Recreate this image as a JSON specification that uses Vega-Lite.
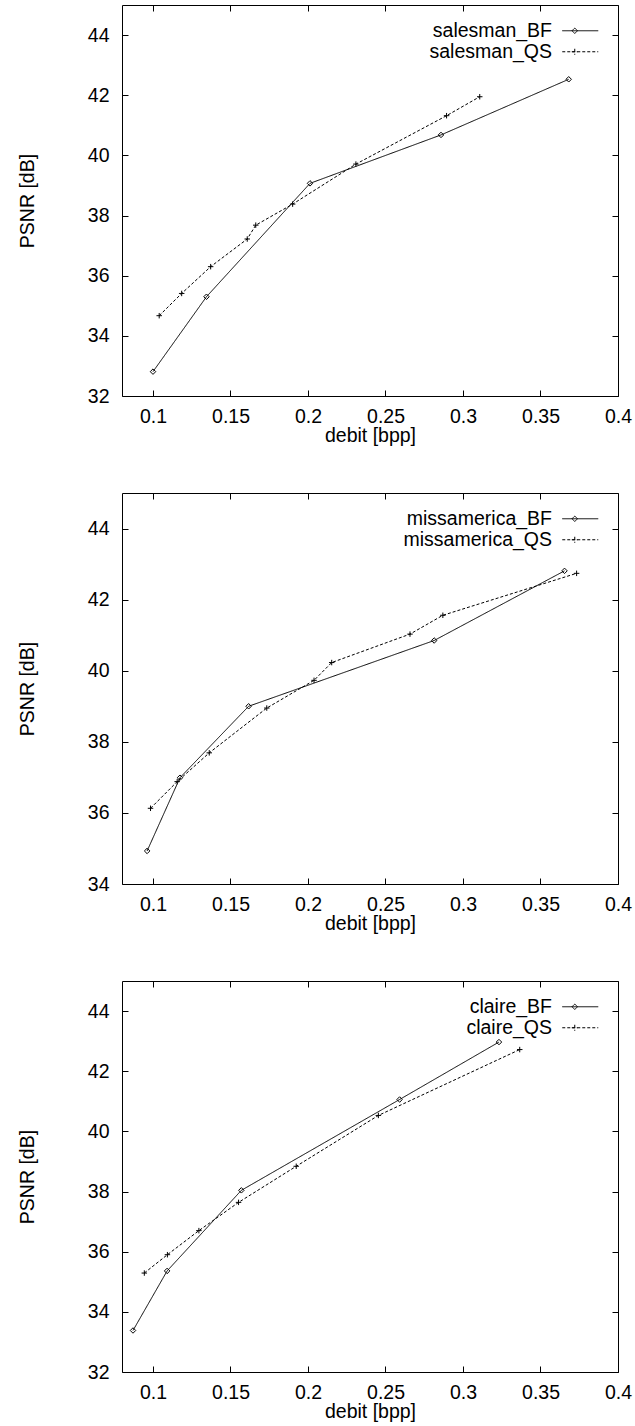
{
  "$schema": "https://vega.github.io/schema/vega-lite/v6.json",
  "padding": {"left": 16, "top": 4, "right": 0, "bottom": 0},
  "background": "white",
  "config": {
    "font": "Liberation Sans",
    "view": {"stroke": "black", "strokeWidth": 1},
    "axis": {
      "grid": false,
      "domain": false,
      "tickColor": "black",
      "tickSize": -6,
      "tickWidth": 1,
      "labelColor": "black",
      "labelFont": "Liberation Sans",
      "labelFontSize": 19.5,
      "titleColor": "black",
      "titleFont": "Liberation Sans",
      "titleFontSize": 19.5,
      "titleFontWeight": "normal",
      "labelFlush": false,
      "labelOverlap": false
    },
    "legend": {
      "orient": "none", "legendX": 448.5, "legendY": 16, "title": null, "padding": 0, "rowPadding": 0,
      "labelFont": "Liberation Sans", "labelFontSize": 19.5, "labelColor": "black", "labelAlign": "right", "labelOffset": -38, "labelLimit": 0,
      "symbolSize": 100, "symbolStrokeWidth": 1, "symbolStrokeColor": "black", "symbolFillColor": "transparent"
    }
  },
  "data": {
    "values": [
      {"seq": "salesman", "series": "salesman_BF", "debit": 0.1, "psnr": 32.81},
      {"seq": "salesman", "series": "salesman_BF", "debit": 0.1345, "psnr": 35.3},
      {"seq": "salesman", "series": "salesman_BF", "debit": 0.2013, "psnr": 39.07},
      {"seq": "salesman", "series": "salesman_BF", "debit": 0.2858, "psnr": 40.68},
      {"seq": "salesman", "series": "salesman_BF", "debit": 0.3682, "psnr": 42.53},
      {"seq": "salesman", "series": "salesman_QS", "debit": 0.104, "psnr": 34.67},
      {"seq": "salesman", "series": "salesman_QS", "debit": 0.1185, "psnr": 35.41},
      {"seq": "salesman", "series": "salesman_QS", "debit": 0.1372, "psnr": 36.3},
      {"seq": "salesman", "series": "salesman_QS", "debit": 0.1608, "psnr": 37.22},
      {"seq": "salesman", "series": "salesman_QS", "debit": 0.1663, "psnr": 37.68},
      {"seq": "salesman", "series": "salesman_QS", "debit": 0.1901, "psnr": 38.38},
      {"seq": "salesman", "series": "salesman_QS", "debit": 0.2309, "psnr": 39.71},
      {"seq": "salesman", "series": "salesman_QS", "debit": 0.2894, "psnr": 41.32},
      {"seq": "salesman", "series": "salesman_QS", "debit": 0.3108, "psnr": 41.95},
      {"seq": "missamerica", "series": "missamerica_BF", "debit": 0.0962, "psnr": 34.93},
      {"seq": "missamerica", "series": "missamerica_BF", "debit": 0.1174, "psnr": 36.99},
      {"seq": "missamerica", "series": "missamerica_BF", "debit": 0.1617, "psnr": 39.0},
      {"seq": "missamerica", "series": "missamerica_BF", "debit": 0.2814, "psnr": 40.85},
      {"seq": "missamerica", "series": "missamerica_BF", "debit": 0.3655, "psnr": 42.81},
      {"seq": "missamerica", "series": "missamerica_QS", "debit": 0.0984, "psnr": 36.13},
      {"seq": "missamerica", "series": "missamerica_QS", "debit": 0.1156, "psnr": 36.88},
      {"seq": "missamerica", "series": "missamerica_QS", "debit": 0.1363, "psnr": 37.69},
      {"seq": "missamerica", "series": "missamerica_QS", "debit": 0.1734, "psnr": 38.95},
      {"seq": "missamerica", "series": "missamerica_QS", "debit": 0.2039, "psnr": 39.73},
      {"seq": "missamerica", "series": "missamerica_QS", "debit": 0.2153, "psnr": 40.23},
      {"seq": "missamerica", "series": "missamerica_QS", "debit": 0.2658, "psnr": 41.03},
      {"seq": "missamerica", "series": "missamerica_QS", "debit": 0.287, "psnr": 41.56},
      {"seq": "missamerica", "series": "missamerica_QS", "debit": 0.3733, "psnr": 42.74},
      {"seq": "claire", "series": "claire_BF", "debit": 0.0871, "psnr": 33.38},
      {"seq": "claire", "series": "claire_BF", "debit": 0.1091, "psnr": 35.36},
      {"seq": "claire", "series": "claire_BF", "debit": 0.157, "psnr": 38.04},
      {"seq": "claire", "series": "claire_BF", "debit": 0.2591, "psnr": 41.06},
      {"seq": "claire", "series": "claire_BF", "debit": 0.3232, "psnr": 42.97},
      {"seq": "claire", "series": "claire_QS", "debit": 0.0944, "psnr": 35.29},
      {"seq": "claire", "series": "claire_QS", "debit": 0.1093, "psnr": 35.9},
      {"seq": "claire", "series": "claire_QS", "debit": 0.1296, "psnr": 36.7},
      {"seq": "claire", "series": "claire_QS", "debit": 0.1552, "psnr": 37.64},
      {"seq": "claire", "series": "claire_QS", "debit": 0.1924, "psnr": 38.84},
      {"seq": "claire", "series": "claire_QS", "debit": 0.2454, "psnr": 40.53},
      {"seq": "claire", "series": "claire_QS", "debit": 0.3366, "psnr": 42.72}
    ]
  },
  "spacing": 46,
  "resolve": {
    "scale": {"strokeDash": "independent"},
    "legend": {"strokeDash": "independent"}
  },
  "vconcat": [
    {
      "width": 496,
      "height": 391,
      "transform": [{"filter": "datum.seq === 'salesman'"}],
      "resolve": {"axis": {"x": "independent", "y": "independent"}},
      "layer": [
        {
          "mark": {"type": "line", "color": "black", "strokeWidth": 1},
          "encoding": {
            "x": {"field": "debit", "type": "quantitative", "scale": {"domain": [0.08, 0.4], "nice": false, "zero": false},
                  "axis": {"orient": "bottom", "values": [0.1, 0.15, 0.2, 0.25, 0.3, 0.35, 0.4], "format": "~g", "title": "debit [bpp]", "labelPadding": 17, "titlePadding": 1}},
            "y": {"field": "psnr", "type": "quantitative", "scale": {"domain": [32, 45], "nice": false, "zero": false},
                  "axis": {"orient": "left", "values": [32, 34, 36, 38, 40, 42, 44], "format": "d", "title": "PSNR [dB]", "labelPadding": 19, "titlePadding": 50}},
            "strokeDash": {"field": "series", "type": "nominal",
              "scale": {"domain": ["salesman_BF", "salesman_QS"], "range": [[1, 0], [3, 2]]},
              "legend": {
                "encode": {"symbols": {"update": {
                  "shape": {"signal": "indexof(datum.value, '_BF') >= 0 ? 'M-3.6,0H3.6M-1.65,0L-1.1,-0.55L-0.55,0L-1.1,0.55Z' : 'M-3.6,0H3.6M-1.7,0H-0.5M-1.1,-0.6V0.6'"},
                  "fill": {"value": "transparent"}, "stroke": {"value": "black"}, "strokeWidth": {"value": 1}}}}}}
          }
        },
        {
          "transform": [{"filter": "indexof(datum.series, '_BF') >= 0"}],
          "mark": {"type": "point", "shape": "diamond", "filled": false, "color": "black", "strokeWidth": 1, "opacity": 1, "size": 30},
          "encoding": {
            "x": {"field": "debit", "type": "quantitative", "scale": {"domain": [0.08, 0.4], "nice": false, "zero": false},
                  "axis": {"orient": "top", "values": [0.1, 0.15, 0.2, 0.25, 0.3, 0.35, 0.4], "labels": false, "title": null}},
            "y": {"field": "psnr", "type": "quantitative", "scale": {"domain": [32, 45], "nice": false, "zero": false},
                  "axis": {"orient": "right", "values": [32, 34, 36, 38, 40, 42, 44], "labels": false, "title": null}}
          }
        },
        {
          "transform": [{"filter": "indexof(datum.series, '_QS') >= 0"}],
          "mark": {"type": "point", "shape": "M-1,0H1M0,-1V1", "filled": false, "color": "black", "strokeWidth": 1, "opacity": 1, "size": 30},
          "encoding": {
            "x": {"field": "debit", "type": "quantitative", "scale": {"domain": [0.08, 0.4], "nice": false, "zero": false}, "axis": null},
            "y": {"field": "psnr", "type": "quantitative", "scale": {"domain": [32, 45], "nice": false, "zero": false}, "axis": null}
          }
        }
      ]
    },
    {
      "width": 496,
      "height": 391,
      "transform": [{"filter": "datum.seq === 'missamerica'"}],
      "resolve": {"axis": {"x": "independent", "y": "independent"}},
      "layer": [
        {
          "mark": {"type": "line", "color": "black", "strokeWidth": 1},
          "encoding": {
            "x": {"field": "debit", "type": "quantitative", "scale": {"domain": [0.08, 0.4], "nice": false, "zero": false},
                  "axis": {"orient": "bottom", "values": [0.1, 0.15, 0.2, 0.25, 0.3, 0.35, 0.4], "format": "~g", "title": "debit [bpp]", "labelPadding": 17, "titlePadding": 1}},
            "y": {"field": "psnr", "type": "quantitative", "scale": {"domain": [34, 45], "nice": false, "zero": false},
                  "axis": {"orient": "left", "values": [34, 36, 38, 40, 42, 44], "format": "d", "title": "PSNR [dB]", "labelPadding": 19, "titlePadding": 50}},
            "strokeDash": {"field": "series", "type": "nominal",
              "scale": {"domain": ["missamerica_BF", "missamerica_QS"], "range": [[1, 0], [3, 2]]},
              "legend": {
                "encode": {"symbols": {"update": {
                  "shape": {"signal": "indexof(datum.value, '_BF') >= 0 ? 'M-3.6,0H3.6M-1.65,0L-1.1,-0.55L-0.55,0L-1.1,0.55Z' : 'M-3.6,0H3.6M-1.7,0H-0.5M-1.1,-0.6V0.6'"},
                  "fill": {"value": "transparent"}, "stroke": {"value": "black"}, "strokeWidth": {"value": 1}}}}}}
          }
        },
        {
          "transform": [{"filter": "indexof(datum.series, '_BF') >= 0"}],
          "mark": {"type": "point", "shape": "diamond", "filled": false, "color": "black", "strokeWidth": 1, "opacity": 1, "size": 30},
          "encoding": {
            "x": {"field": "debit", "type": "quantitative", "scale": {"domain": [0.08, 0.4], "nice": false, "zero": false},
                  "axis": {"orient": "top", "values": [0.1, 0.15, 0.2, 0.25, 0.3, 0.35, 0.4], "labels": false, "title": null}},
            "y": {"field": "psnr", "type": "quantitative", "scale": {"domain": [34, 45], "nice": false, "zero": false},
                  "axis": {"orient": "right", "values": [34, 36, 38, 40, 42, 44], "labels": false, "title": null}}
          }
        },
        {
          "transform": [{"filter": "indexof(datum.series, '_QS') >= 0"}],
          "mark": {"type": "point", "shape": "M-1,0H1M0,-1V1", "filled": false, "color": "black", "strokeWidth": 1, "opacity": 1, "size": 30},
          "encoding": {
            "x": {"field": "debit", "type": "quantitative", "scale": {"domain": [0.08, 0.4], "nice": false, "zero": false}, "axis": null},
            "y": {"field": "psnr", "type": "quantitative", "scale": {"domain": [34, 45], "nice": false, "zero": false}, "axis": null}
          }
        }
      ]
    },
    {
      "width": 496,
      "height": 391,
      "transform": [{"filter": "datum.seq === 'claire'"}],
      "resolve": {"axis": {"x": "independent", "y": "independent"}},
      "layer": [
        {
          "mark": {"type": "line", "color": "black", "strokeWidth": 1},
          "encoding": {
            "x": {"field": "debit", "type": "quantitative", "scale": {"domain": [0.08, 0.4], "nice": false, "zero": false},
                  "axis": {"orient": "bottom", "values": [0.1, 0.15, 0.2, 0.25, 0.3, 0.35, 0.4], "format": "~g", "title": "debit [bpp]", "labelPadding": 17, "titlePadding": 1}},
            "y": {"field": "psnr", "type": "quantitative", "scale": {"domain": [32, 45], "nice": false, "zero": false},
                  "axis": {"orient": "left", "values": [32, 34, 36, 38, 40, 42, 44], "format": "d", "title": "PSNR [dB]", "labelPadding": 19, "titlePadding": 50}},
            "strokeDash": {"field": "series", "type": "nominal",
              "scale": {"domain": ["claire_BF", "claire_QS"], "range": [[1, 0], [3, 2]]},
              "legend": {
                "encode": {"symbols": {"update": {
                  "shape": {"signal": "indexof(datum.value, '_BF') >= 0 ? 'M-3.6,0H3.6M-1.65,0L-1.1,-0.55L-0.55,0L-1.1,0.55Z' : 'M-3.6,0H3.6M-1.7,0H-0.5M-1.1,-0.6V0.6'"},
                  "fill": {"value": "transparent"}, "stroke": {"value": "black"}, "strokeWidth": {"value": 1}}}}}}
          }
        },
        {
          "transform": [{"filter": "indexof(datum.series, '_BF') >= 0"}],
          "mark": {"type": "point", "shape": "diamond", "filled": false, "color": "black", "strokeWidth": 1, "opacity": 1, "size": 30},
          "encoding": {
            "x": {"field": "debit", "type": "quantitative", "scale": {"domain": [0.08, 0.4], "nice": false, "zero": false},
                  "axis": {"orient": "top", "values": [0.1, 0.15, 0.2, 0.25, 0.3, 0.35, 0.4], "labels": false, "title": null}},
            "y": {"field": "psnr", "type": "quantitative", "scale": {"domain": [32, 45], "nice": false, "zero": false},
                  "axis": {"orient": "right", "values": [32, 34, 36, 38, 40, 42, 44], "labels": false, "title": null}}
          }
        },
        {
          "transform": [{"filter": "indexof(datum.series, '_QS') >= 0"}],
          "mark": {"type": "point", "shape": "M-1,0H1M0,-1V1", "filled": false, "color": "black", "strokeWidth": 1, "opacity": 1, "size": 30},
          "encoding": {
            "x": {"field": "debit", "type": "quantitative", "scale": {"domain": [0.08, 0.4], "nice": false, "zero": false}, "axis": null},
            "y": {"field": "psnr", "type": "quantitative", "scale": {"domain": [32, 45], "nice": false, "zero": false}, "axis": null}
          }
        }
      ]
    }
  ]
}
